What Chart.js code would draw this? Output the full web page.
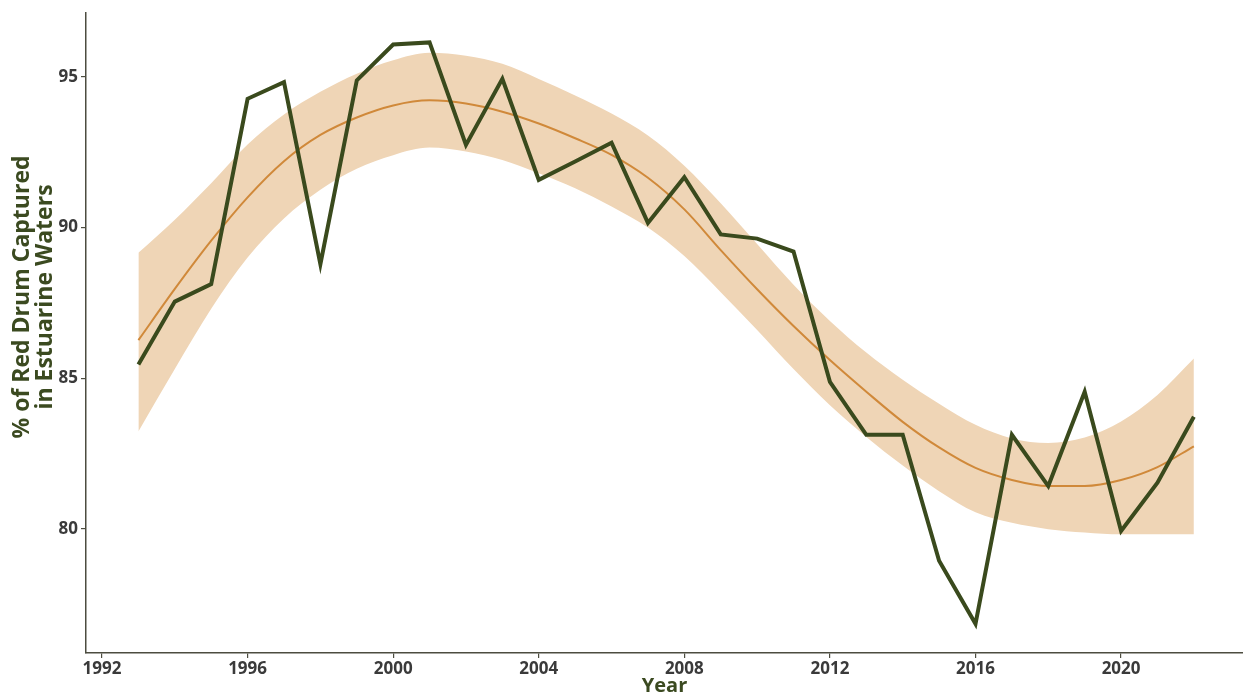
<!DOCTYPE html>
<html>
<head>
<meta charset="utf-8">
<script src="https://cdn.jsdelivr.net/npm/chart.js@4.4.1/dist/chart.umd.min.js"></script>
<style>
  html, body { margin: 0; padding: 0; background: #ffffff; }
  #wrap { width: 1243px; height: 696px; }
</style>
</head>
<body>
<div id="wrap"><canvas id="c" width="1243" height="696"></canvas></div>
<script>
// ---- data ----
const years = [1993, 1994, 1995, 1996, 1997, 1998, 1999, 2000, 2001, 2002,
               2003, 2004, 2005, 2006, 2007, 2008, 2009, 2010, 2011, 2012,
               2013, 2014, 2015, 2016, 2017, 2018, 2019, 2020, 2021, 2022];
const pctEstuarine = [85.45, 87.54, 88.12, 94.27, 94.82, 88.78, 94.88, 96.07, 96.14, 92.74,
                      94.93, 91.58, 92.19, 92.81, 90.15, 91.67, 89.77, 89.63, 89.20, 84.88,
                      83.12, 83.12, 78.94, 76.85, 83.12, 81.42, 84.55, 79.93, 81.53, 83.72];
const fitLine = [86.26, 87.96, 89.56, 91.00, 92.20, 93.07, 93.65, 94.05, 94.22, 94.11,
                 93.84, 93.45, 92.96, 92.41, 91.65, 90.60, 89.25, 87.95, 86.73, 85.60,
                 84.55, 83.55, 82.70, 82.02, 81.62, 81.42, 81.42, 81.62, 82.05, 82.74];
const bandUpper = [89.16, 90.26, 91.47, 92.75, 93.75, 94.50, 95.10, 95.55, 95.80, 95.70,
                   95.43, 94.93, 94.38, 93.78, 93.05, 92.05, 90.80, 89.45, 88.10, 86.90,
                   85.85, 84.95, 84.15, 83.45, 83.00, 82.85, 83.03, 83.56, 84.44, 85.65];
const bandLower = [83.23, 85.30, 87.30, 89.00, 90.30, 91.25, 91.95, 92.40, 92.65, 92.52,
                   92.24, 91.80, 91.30, 90.70, 90.00, 89.05, 87.85, 86.60, 85.30, 84.10,
                   83.05, 82.10, 81.25, 80.55, 80.20, 79.99, 79.88, 79.82, 79.82, 79.82];
const xTicks = [1992, 1996, 2000, 2004, 2008, 2012, 2016, 2020];
const yTicks = [80, 85, 90, 95];
const yTitle = ['% of Red Drum Captured', 'in Estuarine Waters'];
const xTitle = 'Year';

const pts = arr => arr.map((v, i) => ({ x: years[i], y: v }));

const COL_GREEN = '#3a4a1d';
const COL_FIT = '#d0893a';
const COL_BAND = '#efd5b6';
const COL_AXIS = '#4d4d40';
const COL_TICK = '#3a3a3a';
const COL_TITLE = '#3b4a20';
const FONT = '"Open Sans", "Liberation Sans", sans-serif';

const yTitlePlugin = {
  id: 'yTitle',
  afterDraw(chart) {
    const ctx = chart.ctx;
    ctx.save();
    ctx.fillStyle = COL_TITLE;
    ctx.font = 'bold 23px ' + FONT;
    ctx.textAlign = 'center';
    ctx.textBaseline = 'middle';
    const cy = 297;
    const xs = [22, 45.5];
    yTitle.forEach((t, i) => {
      ctx.save();
      ctx.translate(xs[i], cy);
      ctx.rotate(-Math.PI / 2);
      ctx.fillText(t, 0, 0);
      ctx.restore();
    });
    ctx.restore();
  }
};

new Chart(document.getElementById('c'), {
  type: 'line',
  data: {
    datasets: [
      { label: 'pct', data: pts(pctEstuarine), borderColor: COL_GREEN, borderWidth: 4,
        pointRadius: 0, tension: 0, fill: false, order: 0, borderJoinStyle: 'miter' },
      { label: 'fit', data: pts(fitLine), borderColor: COL_FIT, borderWidth: 2,
        pointRadius: 0, cubicInterpolationMode: 'monotone', fill: false, order: 1 },
      { label: 'lower', data: pts(bandLower), borderWidth: 0, borderColor: 'rgba(0,0,0,0)',
        pointRadius: 0, cubicInterpolationMode: 'monotone', fill: false, order: 3 },
      { label: 'upper', data: pts(bandUpper), borderWidth: 0, borderColor: 'rgba(0,0,0,0)',
        backgroundColor: COL_BAND, pointRadius: 0, cubicInterpolationMode: 'monotone',
        fill: '-1', order: 2 }
    ]
  },
  options: {
    responsive: false,
    animation: false,
    events: [],
    layout: { padding: { top: 9, right: 0, left: 0, bottom: 0 } },
    plugins: { legend: { display: false }, tooltip: { enabled: false } },
    scales: {
      x: {
        type: 'linear', min: 1991.56, max: 2023.35,
        afterBuildTicks: s => { s.ticks = xTicks.map(v => ({ value: v })); },
        afterFit: s => { s.height = 43; },
        grid: { display: true, drawOnChartArea: false, drawTicks: true, tickLength: 5, color: COL_AXIS, lineWidth: 1.2 },
        border: { display: true, color: COL_AXIS, width: 1.5 },
        ticks: { color: COL_TICK, font: { family: FONT, size: 17, weight: 'bold' }, padding: 1,
                 maxRotation: 0, autoSkip: false, callback: v => String(v) },
        title: { display: true, text: xTitle, color: COL_TITLE,
                 font: { family: FONT, size: 20, weight: 'bold', lineHeight: 1 }, padding: { top: 0, bottom: 0 } }
      },
      y: {
        type: 'linear', min: 75.88, max: 97.11,
        afterBuildTicks: s => { s.ticks = yTicks.map(v => ({ value: v })); },
        afterFit: s => { s.width = 86; },
        grid: { display: true, drawOnChartArea: false, drawTicks: true, tickLength: 5, color: COL_AXIS, lineWidth: 1.2 },
        border: { display: true, color: COL_AXIS, width: 1.5 },
        ticks: { color: COL_TICK, font: { family: FONT, size: 17, weight: 'bold' }, padding: 3,
                 callback: v => String(v) }
      }
    }
  },
  plugins: [yTitlePlugin]
});
</script>
</body>
</html>
